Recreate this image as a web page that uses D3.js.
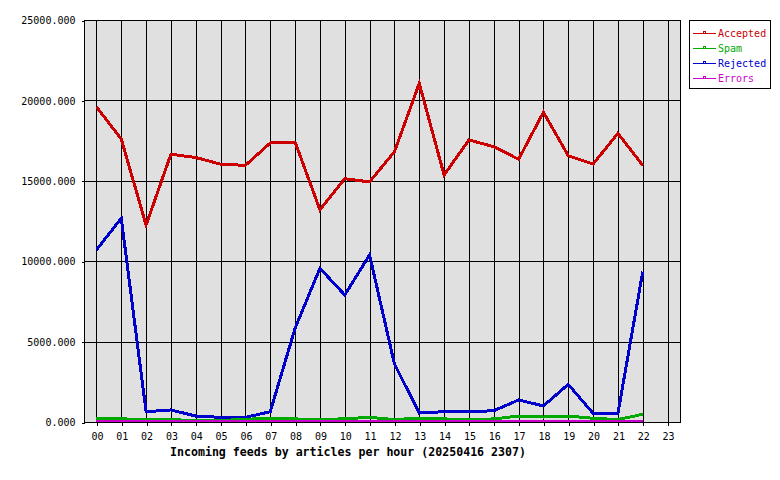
<!DOCTYPE html>
<html>
<head>
<meta charset="utf-8">
<script src="https://cdn.jsdelivr.net/npm/d3@7"></script>
<style>
  html, body { margin: 0; padding: 0; background: #ffffff; }
  svg { display: block; }
  text { font-family: "DejaVu Sans Mono", "Liberation Mono", monospace; }
</style>
</head>
<body>
<svg id="chart" width="780" height="480"></svg>
<script>
const hours = ["00","01","02","03","04","05","06","07","08","09","10","11",
               "12","13","14","15","16","17","18","19","20","21","22","23"];
const yTicks = [0, 5000, 10000, 15000, 20000, 25000];

const accepted = [19600, 17600, 12250, 16650, 16450, 16030, 15960, 17350, 17410, 13200, 15130, 14930,
                  16810, 21060, 15360, 17540, 17120, 16340, 19260, 16560, 16040, 17950, 15960];
const spam     = [210, 200, 140, 140, 100, 90, 170, 230, 190, 150, 200, 290,
                  150, 240, 190, 150, 190, 370, 310, 370, 230, 150, 480];
const rejected = [10700, 12670, 640, 750, 370, 290, 290, 640, 5830, 9560, 7900, 10390,
                  3610, 560, 640, 640, 700, 1370, 1000, 2340, 540, 540, 9350];
const errors   = [60, 60, 60, 60, 60, 60, 60, 60, 60, 60, 60, 60,
                  60, 60, 60, 60, 60, 60, 60, 60, 60, 60, 60];

const seriesNames = ["Accepted", "Spam", "Rejected", "Errors"];
const seriesData = [accepted, spam, rejected, errors];
const seriesColors = ["#cc0000", "#00aa00", "#0000cc", "#cc00cc"];
const seriesWidths = [3, 3, 3, 2];
const title = "Incoming feeds by articles per hour (20250416 2307)";

const svg = d3.select("#chart");
const L = 84, R = 680, T = 20, B = 422;

const x = d3.scalePoint().domain(hours).range([L, R]).padding(0.5);
const y = d3.scaleLinear().domain([0, 25000]).range([B, T]);

// plot background
svg.append("rect").attr("x", L).attr("y", T).attr("width", R - L).attr("height", B - T)
   .attr("fill", "#e0e0e0");

// grid
const grid = svg.append("g").attr("stroke", "#000").attr("stroke-width", 1).attr("shape-rendering", "crispEdges");
hours.forEach(h => {
  const xx = Math.round(x(h)) + 0.5;
  grid.append("line").attr("x1", xx).attr("x2", xx).attr("y1", T).attr("y2", B);
});
yTicks.forEach(v => {
  const yy = Math.round(y(v)) + 0.5;
  grid.append("line").attr("x1", L).attr("x2", R).attr("y1", yy).attr("y2", yy);
});

// frame
svg.append("rect").attr("x", L + 0.5).attr("y", T + 0.5).attr("width", R - L).attr("height", B - T)
   .attr("fill", "none").attr("stroke", "#000").attr("shape-rendering", "crispEdges");

// axes
const xAxis = svg.append("g").attr("transform", `translate(0.5,${B + 0.5})`)
  .call(d3.axisBottom(x).tickSize(3).tickPadding(7));
const yAxis = svg.append("g").attr("transform", `translate(${L + 0.5},0.5)`)
  .call(d3.axisLeft(y).tickValues(yTicks).tickFormat(d3.format(".3f")).tickSize(3).tickPadding(6));
[xAxis, yAxis].forEach(a => {
  a.select(".domain").remove();
  a.selectAll("line").attr("stroke", "#000").attr("shape-rendering", "crispEdges");
  a.selectAll("text").attr("font-size", "10px").attr("fill", "#000")
    .attr("font-family", "DejaVu Sans Mono, monospace");
});

// series lines
const line = d3.line().x((d, i) => x(hours[i])).y(d => y(d));
const order = [0, 2, 1, 3];
order.forEach(k => {
  svg.append("path").datum(seriesData[k])
    .attr("d", line)
    .attr("fill", "none")
    .attr("stroke", seriesColors[k])
    .attr("stroke-width", seriesWidths[k])
    .attr("stroke-linejoin", "miter")
    .attr("shape-rendering", "crispEdges");
});

// title
svg.append("text").attr("x", 170).attr("y", 456)
  .attr("font-size", "11.6px").attr("font-weight", "bold").attr("fill", "#000")
  .text(title);

// legend
const lg = svg.append("g");
lg.append("rect").attr("x", 689.5).attr("y", 20.5).attr("width", 81).attr("height", 68)
  .attr("fill", "#fff").attr("stroke", "#000").attr("shape-rendering", "crispEdges");
seriesNames.forEach((name, i) => {
  const yy = 33 + i * 15;
  lg.append("rect").attr("x", 693).attr("y", yy).attr("width", 23).attr("height", 1)
    .attr("fill", seriesColors[i]);
  lg.append("rect").attr("x", 703).attr("y", yy - 2).attr("width", 3).attr("height", 3)
    .attr("fill", seriesColors[i]);
  lg.append("rect").attr("x", 704).attr("y", yy - 1).attr("width", 1).attr("height", 1)
    .attr("fill", "#fff");
  lg.append("text").attr("x", 718).attr("y", yy).attr("dy", "0.35em")
    .attr("font-size", "10px").attr("fill", seriesColors[i]).text(name);
});
</script>
</body>
</html>
